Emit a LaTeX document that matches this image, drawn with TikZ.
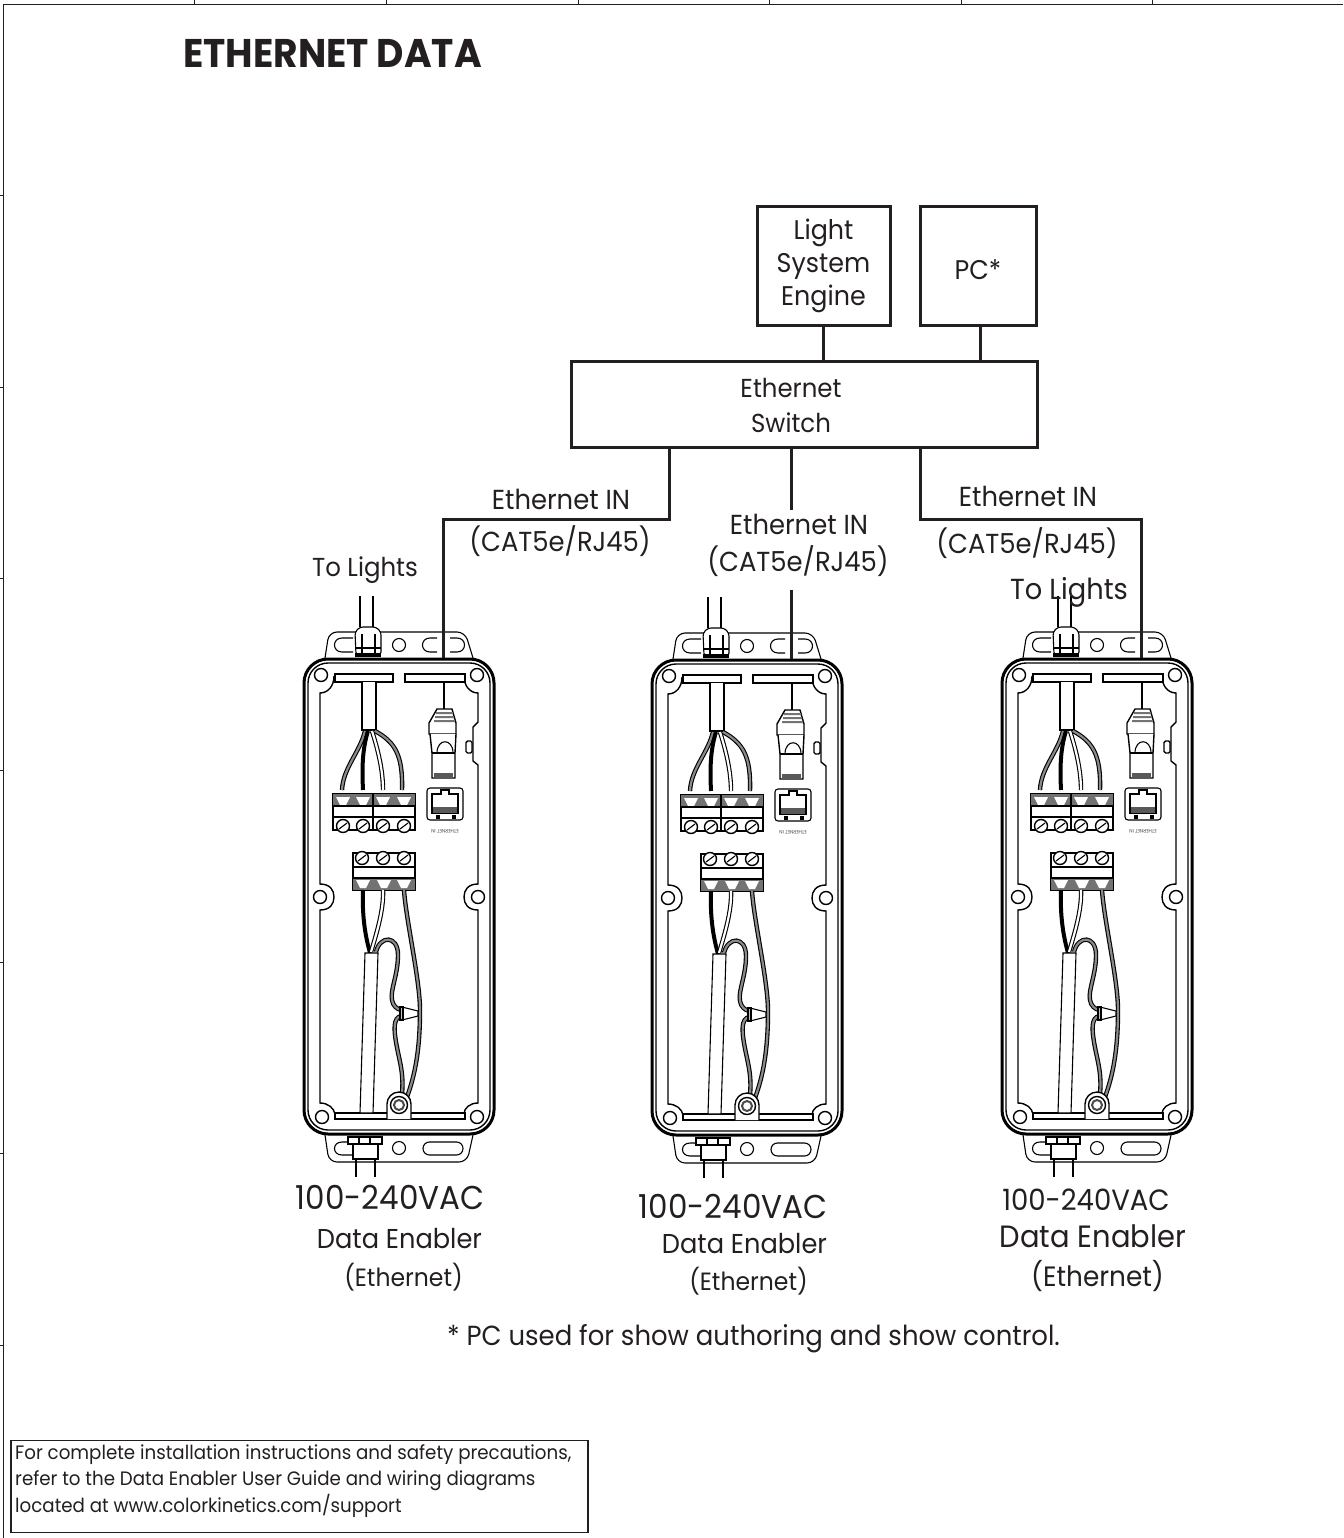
\documentclass[tikz,border=0pt]{standalone}
\usepackage{fontspec}
\setmainfont{Poppins}[FakeStretch=0.94]
\usepackage{tikz}
\usetikzlibrary{positioning}
\definecolor{InkBlack}{HTML}{231F20}
\definecolor{CableGray}{HTML}{8A8A8A}
\tikzset{
  hwnode/.style={draw=InkBlack,line width=3pt,fill=white,align=center,inner sep=0pt,
    font=\fontsize{27}{33}\selectfont\color{InkBlack}},
  lblnode/.style={inner sep=0pt,align=center,
    font=\fontsize{#1}{#1}\selectfont\color{InkBlack}},
  lblnode/.default=27.5,
  notenode/.style={inner sep=0pt,align=left,anchor=west,
    font=\fontsize{19.4}{26}\selectfont\color{InkBlack}},
  netline/.style={draw=InkBlack,line width=3pt},
  frameline/.style={draw=InkBlack,line width=1pt},
  caseThick/.style={draw=black,line width=3pt},
  caseThin/.style={draw=black,line width=1.4pt},
  partline/.style={draw=black,line width=1.1pt},
  wireK/.style={draw=black,line width=4pt},
  wireG/.style={draw=black,line width=1.1pt,double=CableGray,double distance=2.2pt},
  wireW/.style={draw=black,line width=1.1pt,double=white,double distance=2.2pt},
  enclosure/.pic={
    % flanges and glands
    \draw[partline,fill=white,rounded corners=8pt] (325,658) -- (329,632) -- (465,632) -- (473,658);
    \draw[partline] (353,638) -- (342,638) .. controls (332,638) and (332,652) .. (342,652) -- (353,652);
    \draw[partline] (399,645) circle (6.5);
    \draw[partline] (437,638) -- (430,638) .. controls (420,638) and (420,652) .. (430,652) -- (437,652);
    \draw[partline] (450,638) -- (457,638) .. controls (467,638) and (467,652) .. (457,652) -- (450,652);
    \draw[partline,fill=white,rounded corners=8pt] (325,1135) -- (329,1162) -- (467,1162) -- (473,1135);
    \draw[partline] (353,1142) -- (342,1142) .. controls (332,1142) and (332,1155) .. (342,1155) -- (353,1155);
    \draw[partline] (399,1148) circle (6.5);
    \draw[partline,rounded corners=6.4pt] (423,1142) rectangle (463,1155);
    \draw[partline] (360,596) -- (360,627) (373,596) -- (373,627);
    \draw[partline,fill=white,rounded corners=3pt] (356,655) -- (355,632) -- (360,627) -- (376,627) -- (381,632) -- (381,655) -- cycle;
    \draw[partline] (362,634) -- (362,653) (375,634) -- (375,653) (355,648) -- (381,648);
    \fill[black] (355,653) rectangle (381,657);
    \draw[partline,fill=white] (348,1137) rectangle (382,1144);
    \draw[partline] (359,1137) -- (359,1144) (370,1137) -- (370,1144);
    \draw[caseThin,fill=white] (353,1144) rectangle (378,1159);
    \draw[partline] (356,1159) -- (356,1177) (375,1159) -- (375,1177);
    % case outline
    \draw[caseThick,fill=white,rounded corners=24pt] (304,659) rectangle (494,1134);
    \draw[caseThin,rounded corners=20pt] (308,663) rectangle (490,1130);
    \draw[caseThin] (334,676) .. controls (334,686) and (328,693) .. (320,693)
      -- (320,884) .. controls (330,884) and (334,890) .. (334,897)
      .. controls (334,904) and (330,910) .. (320,910)
      -- (320,1103) .. controls (328,1103) and (334,1108) .. (335,1114);
    \draw[caseThin] (464,676) .. controls (464,686) and (470,693) .. (478,693)
      -- (478,722) -- (473,727) -- (473,761) -- (478,765)
      -- (478,884) .. controls (468,884) and (464,890) .. (464,897)
      .. controls (464,904) and (468,910) .. (478,910)
      -- (478,1103) .. controls (470,1103) and (464,1108) .. (464,1114);
    \draw[caseThin,rounded corners=1.5pt] (466,741) rectangle (472,753);
    \draw[caseThin] (321,675) circle (6.5) (477,675) circle (6.5)
      (320,897) circle (6.5) (478,897) circle (6.5)
      (322,1117) circle (6.5) (477,1117) circle (6.5);
    \draw[caseThin,fill=white] (335,674) rectangle (393,682);
    \draw[caseThin,fill=white] (405,674) rectangle (465,682);
    \draw[caseThin,fill=white] (335,1113) rectangle (465,1119);
    % mains and data cable
    \draw[partline,fill=white] (362,682) -- (362,730) -- (376,730) -- (376,682);
    \draw[wireG] (365,731) .. controls (360,752) and (343,768) .. (342,790);
    \draw[wireK] (368,731) .. controls (362,750) and (362,770) .. (363,790);
    \draw[wireW] (372,731) .. controls (378,750) and (383,770) .. (383,790);
    \draw[wireG] (375,731) .. controls (395,742) and (403,755) .. (402,790);
    \draw[wireK,line width=2.4pt] (444,682) -- (444,709);
    % data plug
    \draw[caseThin,fill=white] (437,709) -- (452,709) -- (456,723) -- (456,734) -- (429,734) -- (429,723) -- cycle;
    \fill[black!55] (436,712) rectangle (453,714) (435,716) rectangle (454,718) (434,720) rectangle (455,722);
    \draw[caseThin,fill=white] (430,734) -- (432,753) -- (432,778) -- (455,778) -- (455,753) -- (456,734);
    \draw[partline] (437,753) .. controls (437,738) and (453,738) .. (453,753);
    \draw[partline] (432,753) -- (455,753);
    \fill[black!65] (434,773) rectangle (453,777);
    % data jack
    \draw[partline,fill=white,rounded corners=3pt] (427,788) rectangle (463,820);
    \draw[caseThin,fill=white] (432,794) -- (441,794) -- (441,790) -- (449,790) -- (449,794) -- (458,794) -- (458,813) -- (432,813) -- cycle;
    \fill[black!65] (433,807) rectangle (457,813);
    \draw[partline] (437,816) rectangle (439,818) (453,816) rectangle (455,818);
    \node[inner sep=0pt,rotate=180,text=black!70,font=\fontsize{5}{6}\selectfont] (portName) at (445,831) {ETHERNET IN};
    % terminal block, four way
    \draw[caseThin,fill=white] (333,794) rectangle (415,830);
    \fill[black!55] (333,794) rectangle (415,806);
    \fill[white] (336,797) -- (350,797) -- (346,805) -- (340,805) -- cycle
      (356,797) -- (370,797) -- (366,805) -- (360,805) -- cycle
      (376,797) -- (390,797) -- (386,805) -- (380,805) -- cycle
      (397,797) -- (411,797) -- (407,805) -- (401,805) -- cycle;
    \draw[partline] (373,794) -- (373,830) (333,806) -- (415,806) (333,817) -- (415,817);
    \draw[caseThin,fill=white] (343,826) circle (6.5) (363,826) circle (6.5) (383,826) circle (6.5) (404,826) circle (6.5);
    \draw[partline] (339,829) -- (347,823) (359,829) -- (367,823) (379,829) -- (387,823) (400,829) -- (408,823);
    % terminal block, three way
    \draw[caseThin,fill=white] (353,853) rectangle (415,890);
    \fill[black!55] (353,878) rectangle (415,890);
    \fill[white] (356,880) -- (370,880) -- (366,888) -- (360,888) -- cycle
      (377,880) -- (391,880) -- (387,888) -- (381,888) -- cycle
      (397,880) -- (411,880) -- (407,888) -- (401,888) -- cycle;
    \draw[partline] (353,867) -- (415,867) (353,878) -- (415,878);
    \draw[caseThin,fill=white] (362,858) circle (6.5) (383,858) circle (6.5) (404,858) circle (6.5);
    \draw[partline] (358,861) -- (366,855) (379,861) -- (387,855) (400,861) -- (408,855);
    % lower wires
    \draw[wireK] (363,890) .. controls (362,915) and (365,935) .. (370,953);
    \draw[wireW] (383,890) .. controls (384,910) and (376,935) .. (371,952);
    \draw[wireG] (404,890) .. controls (406,920) and (420,980) .. (420,1010) .. controls (420,1050) and (415,1075) .. (407,1097);
    \draw[wireG] (376,952) .. controls (380,935) and (398,935) .. (398,955) .. controls (398,975) and (390,990) .. (392,1000) .. controls (393,1006) and (397,1009) .. (401,1010);
    \draw[wireG] (401,1016) .. controls (393,1018) and (394,1030) .. (396,1042) .. controls (399,1060) and (404,1072) .. (402,1094);
    \draw[partline,fill=white] (402,1007) -- (418,1011) -- (418,1016) -- (402,1020) -- cycle;
    \draw[partline,fill=black!25] (400,1007) rectangle (403,1020);
    \draw[partline,fill=white] (365,953) -- (360,1113) -- (373,1113) -- (378,953) -- cycle;
    % earth lug
    \draw[caseThin,fill=white] (387,1119) -- (387,1104) arc (180:360:12) -- (411,1119);
    \draw[caseThin] (399,1105) circle (8.5);
    \draw[line width=2pt,draw=black!70] (399,1105) circle (5);
  },
}
\begin{document}
\begin{tikzpicture}[x=1pt,y=-1pt]
  \useasboundingbox (0,0) rectangle (1343,1538);
  % sheet frame
  \draw[frameline] (3.5,1538) -- (3.5,4.5) -- (1343,4.5);
  \draw[frameline] (194.5,0) -- (194.5,4) (386,0) -- (386,4) (578,0) -- (578,4)
    (769.5,0) -- (769.5,4) (961,0) -- (961,4) (1152.5,0) -- (1152.5,4);
  \draw[frameline] (0,196) -- (3,196) (0,387) -- (3,387) (0,578) -- (3,578)
    (0,770) -- (3,770) (0,962) -- (3,962) (0,1153) -- (3,1153) (0,1345) -- (3,1345);
  \node[inner sep=0pt,anchor=west,font=\fontsize{40}{44}\selectfont\bfseries\color{InkBlack}] (sheetTitle) at (183,53) {ETHERNET DATA};
  % head end
  \node[hwnode,minimum width=133pt,minimum height=118pt] (lseBox) at (823.5,266) {Light\\System\\Engine};
  \node[hwnode,minimum width=116pt,minimum height=118pt] (pcBox) at (978,266) {};
  \node[lblnode=27] (pcText) at (978,270) {PC*};
  \node[hwnode,minimum width=466pt,minimum height=86pt] (switchBox) at (804,404) {};
  \node[lblnode=26] (switchTop) at (791,388) {Ethernet};
  \node[lblnode=26] (switchLow) at (791,423) {Switch};
  % enclosures
  \pic at (0,0) {enclosure};
  \pic at (348,1) {enclosure};
  \pic at (698,0) {enclosure};
  \coordinate (in1) at (443,658);
  \coordinate (in2) at (791,659);
  \coordinate (in3) at (1141,658);
  \coordinate (tapA) at (669,519);
  \coordinate (tapB) at (791,510);
  \coordinate (tapB2) at (791,590);
  \coordinate (tapC) at (920,519);
  % links
  \draw[netline] (lseBox.south) -- (lseBox.south |- switchBox.north);
  \draw[netline] ([xshift=2pt]pcBox.south) -- ([xshift=2pt]pcBox.south |- switchBox.north);
  \draw[netline] (switchBox.south -| tapA) -- (tapA) -| (in1);
  \draw[netline] (switchBox.south -| tapB) -- (tapB);
  \draw[netline] (tapB2) -- (in2);
  \draw[netline] (switchBox.south -| tapC) -- (tapC) -| (in3);
  % labels
  \node[lblnode] (inA) at (561,499) {Ethernet IN};
  \node[lblnode] (catA) at (560,541) {(CAT5e/RJ45)};
  \node[lblnode] (inB) at (799,524) {Ethernet IN};
  \node[lblnode] (catB) at (798,561) {(CAT5e/RJ45)};
  \node[lblnode] (inC) at (1028,496) {Ethernet IN};
  \node[lblnode] (catC) at (1027,543) {(CAT5e/RJ45)};
  \node[lblnode=26] (lightsA) at (365,570) {To Lights};
  \node[lblnode=29] (lightsC) at (1069,592) {To Lights};
  \node[lblnode=33] (acA) at (390,1197) {100-240VAC};
  \node[lblnode=27.3] (enablerA) at (399.5,1239) {Data Enabler};
  \node[lblnode=25] (etherA) at (403.5,1277) {(Ethernet)};
  \node[lblnode=33] (acB) at (733,1206) {100-240VAC};
  \node[lblnode=27.3] (enablerB) at (744.5,1244) {Data Enabler};
  \node[lblnode=25] (etherB) at (748.5,1281) {(Ethernet)};
  \node[lblnode=29.3] (acC) at (1086,1200) {100-240VAC};
  \node[lblnode=30.8] (enablerC) at (1093,1236) {Data Enabler};
  \node[lblnode=28] (etherC) at (1097.5,1276) {(Ethernet)};
  \node[lblnode=27.6] (pcNote) at (753.5,1339) {* PC used for show authoring and show control.};
  % note box
  \node[draw=InkBlack,line width=1.2pt,minimum width=577pt,minimum height=92pt,fill=white] (noteBox) at (299.5,1486.5) {};
  \node[notenode] (noteA) at (15,1455) {For complete installation instructions and safety precautions,};
  \node[notenode] (noteB) at (15,1481) {refer to the Data Enabler User Guide and wiring diagrams};
  \node[notenode] (noteC) at (15,1506) {located at www.colorkinetics.com/support};
\end{tikzpicture}
\end{document}
